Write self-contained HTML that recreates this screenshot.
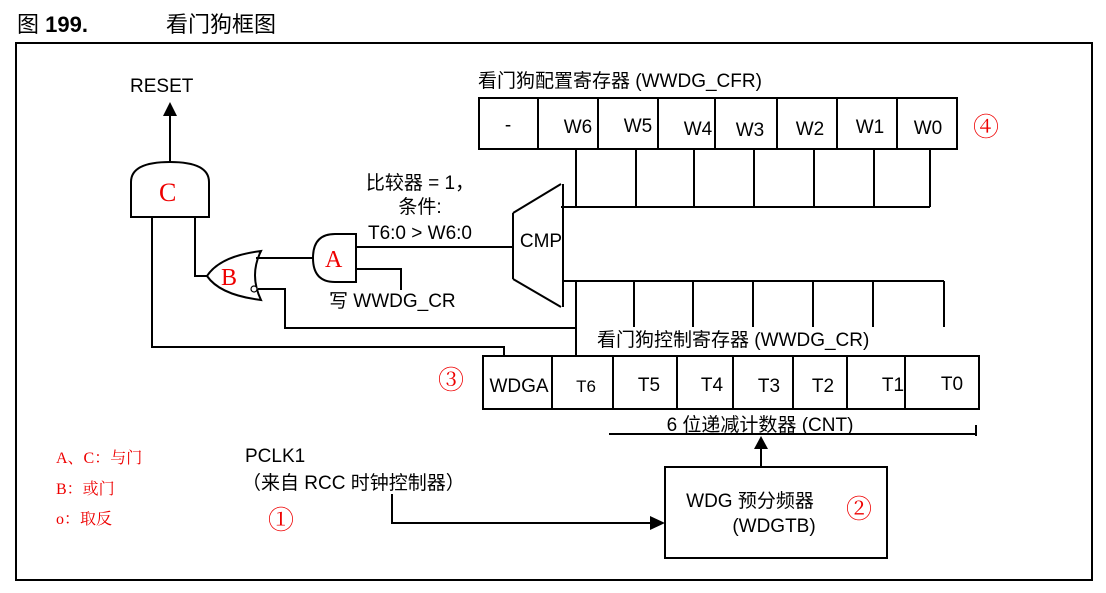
<!DOCTYPE html>
<html><head><meta charset="utf-8"><style>
html,body{margin:0;padding:0;background:#fff;}
svg{display:block;}
text{font-family:"Liberation Sans","Noto Sans CJK SC",sans-serif;fill:#000;}
.r{fill:#e00;font-family:"Liberation Serif","Noto Serif CJK SC",serif;}
</style></head><body>
<svg width="1106" height="593" viewBox="0 0 1106 593" xmlns="http://www.w3.org/2000/svg">
<text x="17" y="32" font-size="22">图 <tspan font-weight="bold">199.</tspan></text>
<text x="166" y="32" font-size="22">看门狗框图</text>
<rect x="16" y="43" width="1076" height="537" fill="none" stroke="#000" stroke-width="2"/>
<g stroke="#000" stroke-width="2" fill="none">
<rect x="479" y="98" width="478" height="51"/>
<path d="M538 98V149M598 98V149M658 98V149M715 98V149M777 98V149M837 98V149M897 98V149"/>
<path d="M576 149V207M636 149V207M694 149V207M754 149V207M814 149V207M874 149V207M930 149V207M561 207H930"/>
<path d="M563 184V307M513 213L561 184M513 279L561 307M513 213V279"/>
<path d="M563 281H944M634 281V327M693 281V327M753 281V327M813 281V327M873 281V327M944 281V327M576 281V356"/>
<rect x="483" y="356" width="496" height="53"/>
<path d="M552 356V409M613 356V409M677 356V409M733 356V409M793 356V409M847 356V409M905 356V409"/>
<path d="M609 434H976M976 425V436"/>
<rect x="665" y="467" width="222" height="91"/>
<path d="M761 467V448"/>
<path d="M392 494V523H650"/>
<path d="M131 217V182Q131 162 170 162Q209 162 209 182V217Z"/>
<path d="M170 162V115"/>
<path d="M152 217V347H504V356"/>
<path d="M195 217V276H207"/>
<path d="M261 251Q249 275 261 300Q220 295 207 276Q220 256 261 251Z"/>
<path d="M256 258H313"/>
<path d="M258 289H285V328H576"/>
<path d="M356 234V282H335Q313 282 313 258Q313 234 335 234Z"/>
<path d="M356 247H513"/>
<path d="M356 269H401V290"/>
</g>
<circle cx="254" cy="289" r="3" fill="#fff" stroke="#000" stroke-width="1.2"/>
<polygon points="170,102 163,116 177,116" fill="#000"/>
<polygon points="761,436 754,449 768,449" fill="#000"/>
<polygon points="665,523 650,516 650,530" fill="#000"/>
<text x="130" y="92" font-size="19">RESET</text>
<text x="478" y="87" font-size="19">看门狗配置寄存器 (WWDG_CFR)</text>
<g font-size="19" text-anchor="middle">
<text x="508" y="131">-</text>
<text x="578" y="133">W6</text>
<text x="638" y="132">W5</text>
<text x="698" y="135">W4</text>
<text x="750" y="136">W3</text>
<text x="810" y="135">W2</text>
<text x="870" y="133">W1</text>
<text x="928" y="134">W0</text>
<text x="541" y="247">CMP</text>
<text x="420" y="189">比较器 = 1，</text>
<text x="420" y="213">条件:</text>
<text x="420" y="239">T6:0 &gt; W6:0</text>
<text x="519" y="392">WDGA</text>
<text x="586" y="392" font-size="17">T6</text>
<text x="649" y="391">T5</text>
<text x="712" y="391">T4</text>
<text x="769" y="392">T3</text>
<text x="823" y="392">T2</text>
<text x="893" y="391">T1</text>
<text x="952" y="390">T0</text>
<text x="760" y="431">6 位递减计数器 (CNT)</text>
<text x="750" y="507">WDG 预分频器</text>
<text x="774" y="532">(WDGTB)</text>
</g>
<text x="329" y="307" font-size="19">写 WWDG_CR</text>
<text x="597" y="346" font-size="19">看门狗控制寄存器 (WWDG_CR)</text>
<text x="245" y="462" font-size="19">PCLK1</text>
<text x="242" y="489" font-size="19">（来自 RCC 时钟控制器）</text>
<text class="r" x="159" y="201" font-size="26">C</text>
<text class="r" x="221" y="285" font-size="24">B</text>
<text class="r" x="325" y="267" font-size="24">A</text>
<text class="r" x="56" y="463" font-size="16">A、C：与门</text>
<text class="r" x="56" y="494" font-size="16">B：或门</text>
<text class="r" x="56" y="524" font-size="16">o：取反</text>
<text class="r" x="268" y="529" font-size="26">①</text>
<text class="r" x="846" y="518" font-size="26">②</text>
<text class="r" x="438" y="389" font-size="26">③</text>
<text class="r" x="973" y="136" font-size="26">④</text>
</svg>
</body></html>
